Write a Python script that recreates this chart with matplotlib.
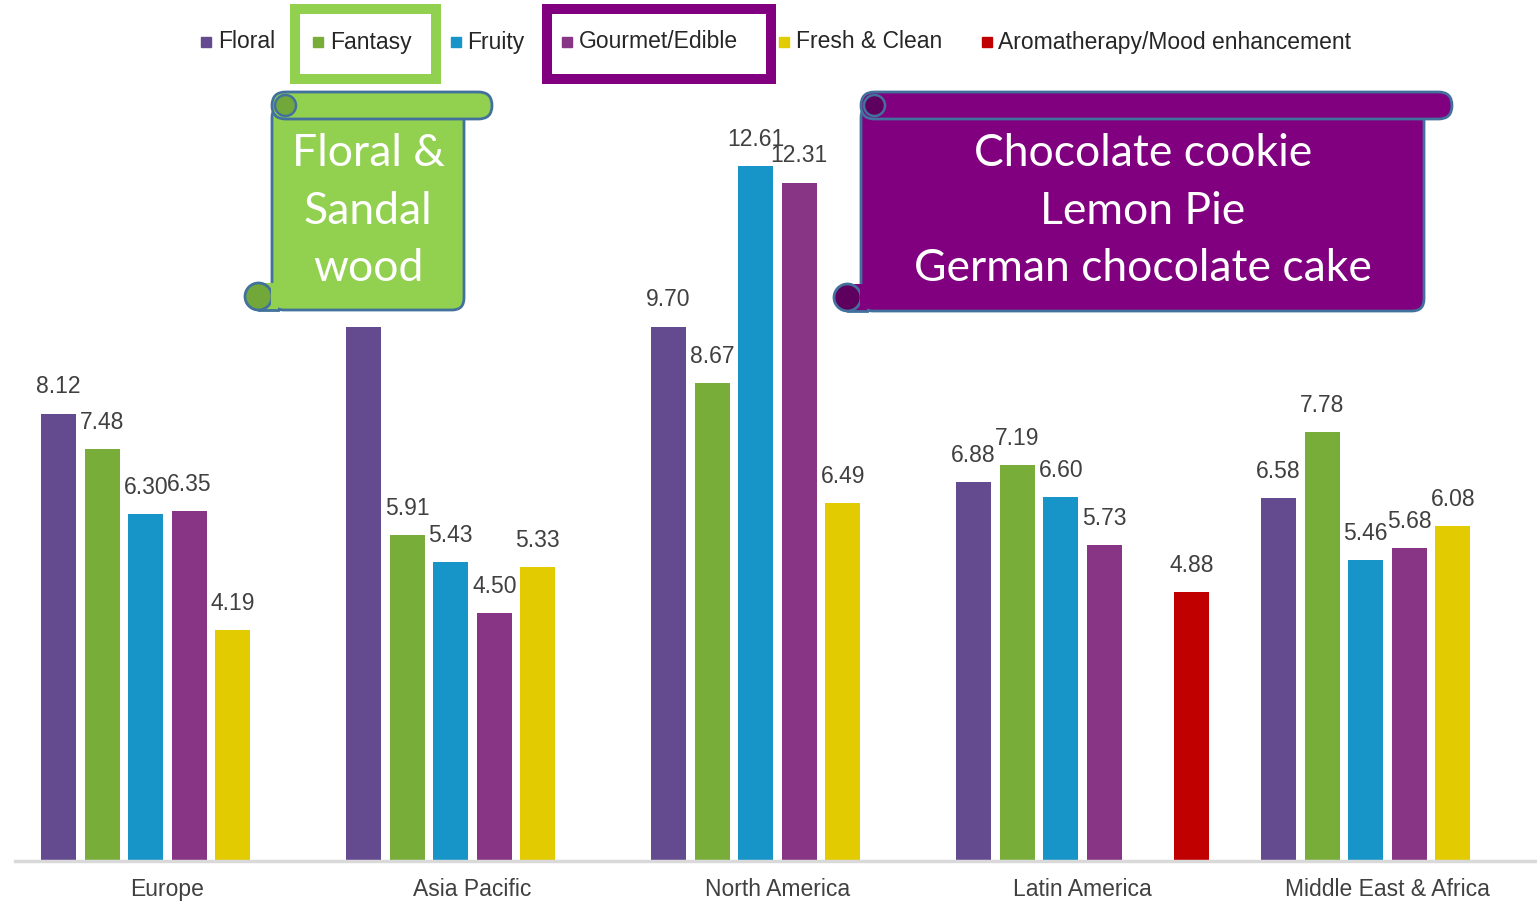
import numpy as np
import matplotlib
matplotlib.use("Agg")
import matplotlib.pyplot as plt
from matplotlib.patches import Rectangle, FancyBboxPatch, Circle

regions = ["Europe", "Asia Pacific", "North America", "Latin America", "Middle East & Africa"]
series = ["Floral", "Fantasy", "Fruity", "Gourmet/Edible", "Fresh & Clean", "Aromatherapy/Mood enhancement"]
floral = [8.12, 9.70, 9.70, 6.88, 6.58]
fantasy = [7.48, 5.91, 8.67, 7.19, 7.78]
fruity = [6.30, 5.43, 12.61, 6.60, 5.46]
gourmet = [6.35, 4.50, 12.31, 5.73, 5.68]
fresh = [4.19, 5.33, 6.49, np.nan, 6.08]
aroma = [np.nan, np.nan, np.nan, 4.88, np.nan]
values = [floral, fantasy, fruity, gourmet, fresh, aroma]
colors = ["#644A8E", "#77AD38", "#1794C8", "#873584", "#E2CB00", "#C00000"]

W, H = 1537, 901
fig = plt.figure(figsize=(W / 100, H / 100), dpi=100)
ax = fig.add_axes([15 / W, 40 / H, 1525 / W, 1 - 40 / H])
ax.set_xlim(-0.5, 4.5)
ax.set_ylim(0, 861 / 55.1)
for s in ["top", "right", "left"]:
    ax.spines[s].set_visible(False)
ax.spines["bottom"].set_color("#D9D9D9")
ax.spines["bottom"].set_linewidth(2.5)
ax.set_yticks([])
ax.set_xticks(range(len(regions)))
ax.set_xticklabels(regions, fontsize=16.5, color="#404040", family="Liberation Sans")
ax.tick_params(axis="x", length=0, pad=12)

slot = 1 / 7
bw = 0.115
x = np.arange(len(regions))
for j, (vals, c) in enumerate(zip(values, colors)):
    pos = x + (j - 2.5) * slot
    v = np.array(vals, dtype=float)
    ok = ~np.isnan(v)
    ax.bar(pos[ok], v[ok], width=bw, color=c, zorder=2)
    for p, val in zip(pos[ok], v[ok]):
        ax.annotate(f"{val:.2f}", (p, val), xytext=(0, 11), textcoords="offset points",
                    ha="center", va="bottom", fontsize=16.5, color="#404040",
                    family="Liberation Sans")

# overlay in pixel coordinates
ov = fig.add_axes([0, 0, 1, 1], zorder=10)
ov.set_xlim(0, W)
ov.set_ylim(H, 0)
ov.axis("off")
ov.patch.set_alpha(0)

# legend
leg_items = [(206, 218), (318, 330), (456, 467), (567, 579), (784, 796), (987, 998)]
for (mx, tx), name, c in zip(leg_items, series, colors):
    ov.add_patch(Rectangle((mx - 5, 37), 10, 10, color=c))
    ov.text(tx, 42, name, ha="left", va="center", fontsize=16.5, color="#262626",
            family="Liberation Sans")
ov.add_patch(Rectangle((295, 9), 141, 70, fill=False, ec="#92D050", lw=7.2))
ov.add_patch(Rectangle((547, 9), 224, 70, fill=False, ec="#800080", lw=7.2))

edge = "#41719C"


def scroll(x0, x1, xr, y0, y1, fill, dark, text, tx, fs):
    r = 13.5
    body = FancyBboxPatch((x0, y0 + r), x1 - x0, y1 - y0 - r, boxstyle="round,pad=0,rounding_size=12",
                          fc=fill, ec=edge, lw=2, zorder=1)
    ov.add_patch(body)
    ov.add_patch(Rectangle((x0 - r, y1 - 2 * r), r + 6, 2 * r, fc=fill, ec="none", zorder=2))
    ov.plot([x0 - r, x0 + 6], [y1, y1], color=edge, lw=2, zorder=3)
    ov.add_patch(Circle((x0 - r, y1 - r), r, fc=dark, ec=edge, lw=2, zorder=3))
    ov.add_patch(Rectangle((x0 - 1, y1 - 2 * r + 3), 3, 2 * r - 4, fc=fill, ec="none", zorder=3))
    roll = FancyBboxPatch((x0, y0), xr - x0, 2 * r, boxstyle=f"round,pad=0,rounding_size={r}",
                          fc=fill, ec=edge, lw=2, zorder=4)
    ov.add_patch(roll)
    ov.add_patch(Circle((x0 + r, y0 + r), r - 3, fc=dark, ec=edge, lw=1.8, zorder=5))
    ov.text(tx, 211, text, ha="center", va="center", color="white",
            fontsize=fs, family="Lato", linespacing=1.49, zorder=6)


scroll(272, 464, 492, 92, 310, "#92D050", "#72A83A", "Floral &\nSandal\nwood", 368, 32)
scroll(861, 1424, 1452, 92, 311, "#800080", "#5E005E",
       "Chocolate cookie\nLemon Pie\nGerman chocolate cake", 1143, 32)

fig.savefig("out.png", dpi=100)
